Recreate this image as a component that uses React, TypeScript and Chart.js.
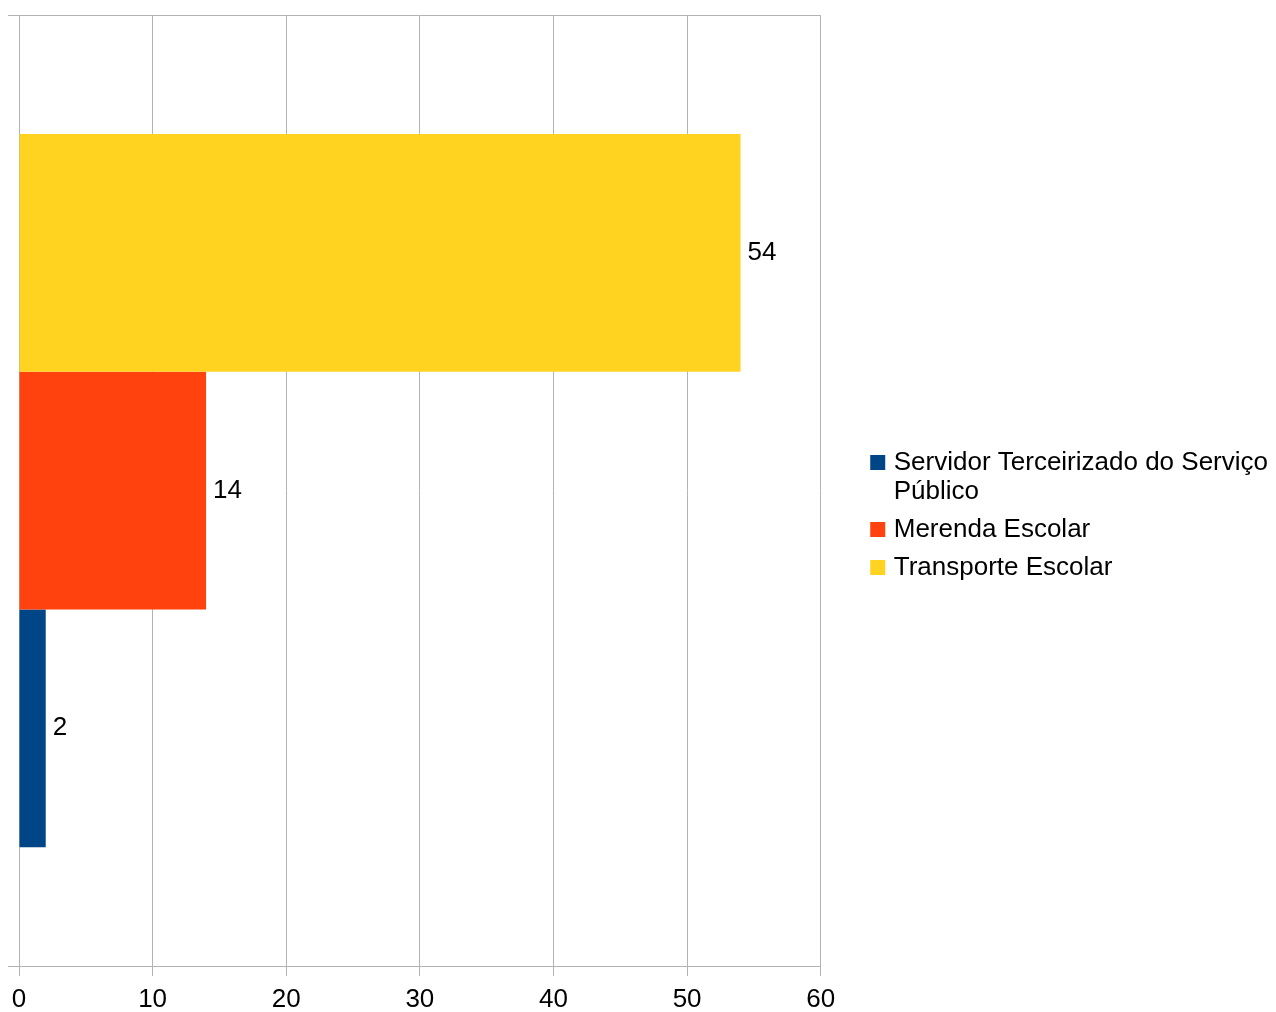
import React, { useEffect, useRef } from "react";
import { Chart, registerables } from "chart.js";

Chart.register(...registerables);

const categories: string[] = [""];
const seriesNames: string[] = [
  "Servidor Terceirizado do Serviço Público",
  "Merenda Escolar",
  "Transporte Escolar",
];
const legendLines: string[][] = [
  ["Servidor Terceirizado do Serviço", "Público"],
  ["Merenda Escolar"],
  ["Transporte Escolar"],
];
const servidorValues: number[] = [2];
const merendaValues: number[] = [14];
const transporteValues: number[] = [54];
const seriesColors: string[] = ["#004586", "#ff420e", "#ffd320"];
const xTicks: number[] = [0, 10, 20, 30, 40, 50, 60];

const FONT = "'Liberation Sans', Arial, sans-serif";
const FS = 26;

export default function App() {
  const ref = useRef<HTMLCanvasElement | null>(null);

  useEffect(() => {
    document.body.style.margin = "0";
    const canvas = ref.current;
    if (!canvas) return;

    const valuesList = [servidorValues, merendaValues, transporteValues];
    // Draw order reversed so that the first series sits at the bottom
    const order = [2, 1, 0];
    const datasets = order.map((i) => ({
      label: seriesNames[i],
      data: valuesList[i],
      backgroundColor: seriesColors[i],
      borderWidth: 0,
      categoryPercentage: 0.75,
      barPercentage: 1,
    }));

    const barLabels = {
      id: "barLabels",
      afterDatasetsDraw(chart: any) {
        const ctx = chart.ctx;
        ctx.save();
        ctx.font = `${FS}px ${FONT}`;
        ctx.fillStyle = "#000";
        ctx.textAlign = "left";
        ctx.textBaseline = "middle";
        chart.data.datasets.forEach((ds: any, di: number) => {
          const meta = chart.getDatasetMeta(di);
          meta.data.forEach((el: any, j: number) => {
            ctx.fillText(String(ds.data[j]), el.x + 7, el.y);
          });
        });
        ctx.restore();
      },
    };

    const chart = new Chart(canvas, {
      type: "bar",
      data: { labels: categories, datasets },
      plugins: [barLabels],
      options: {
        animation: false,
        responsive: false,
        indexAxis: "y",
        layout: { padding: { left: 8, top: 15, right: -2, bottom: 0 } },
        font: { family: FONT, size: FS },
        plugins: {
          tooltip: { enabled: false },
          legend: {
            position: "right",
            reverse: true,
            maxWidth: 600,
            title: { display: true, text: "", padding: 0, font: { size: 5, lineHeight: 1.2 } },
            labels: {
              usePointStyle: true,
              pointStyle: "rect",
              boxWidth: 6,
              boxHeight: 15,
              padding: 9,
              color: "#000",
              font: { family: FONT, size: FS, lineHeight: 1.115 },
              generateLabels: (ch: any) => {
                const base = Chart.defaults.plugins.legend.labels.generateLabels(ch);
                return base.map((item: any) => {
                  const idx = seriesNames.indexOf(item.text);
                  return {
                    ...item,
                    text: legendLines[idx],
                    pointStyle: "rect",
                    lineWidth: 0,
                    strokeStyle: "rgba(0,0,0,0)",
                  };
                });
              },
            },
          },
        },
        scales: {
          x: {
            type: "linear",
            min: 0,
            max: 60,
            afterBuildTicks: (s: any) => {
              s.ticks = xTicks.map((v) => ({ value: v }));
            },
            afterFit: (s: any) => {
              s.height = 46;
            },
            grid: { color: "#b3b3b3", tickLength: 10, drawTicks: true },
            border: { color: "#b3b3b3" },
            ticks: {
              color: "#000",
              padding: 8,
              font: { family: FONT, size: FS },
              maxRotation: 0,
            },
          },
          y: {
            type: "category",
            offset: true,
            grid: { offset: true, color: "#b3b3b3", tickLength: 11 },
            border: { color: "#b3b3b3" },
            ticks: { padding: 0, font: { size: 1 }, color: "#000" },
          },
          y2: {
            type: "linear",
            position: "right",
            display: true,
            grid: { display: false },
            border: { display: false },
            ticks: { display: false },
            afterFit: (s: any) => {
              s.width = 45;
            },
          },
        },
      } as any,
    });

    return () => chart.destroy();
  }, []);

  return (
    <div style={{ width: 1276, height: 1012 }}>
      <canvas ref={ref} width={1276} height={1012} style={{ display: "block" }} />
    </div>
  );
}
